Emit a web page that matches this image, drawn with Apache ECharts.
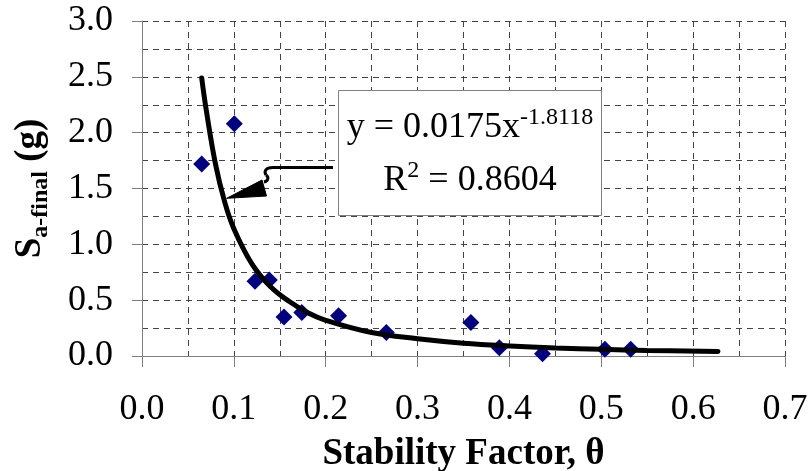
<!DOCTYPE html>
<html><head><meta charset="utf-8">
<script src="https://cdn.jsdelivr.net/npm/echarts@6/dist/echarts.min.js"></script>
<style>html,body{margin:0;padding:0;background:#fff}#c{width:811px;height:471px}</style>
</head><body><div id="c"></div>
<script>
// Observed data points (Stability Factor θ, Sa-final in g)
const stabilityFactor = [0.065, 0.1005, 0.123, 0.1386, 0.1546, 0.174, 0.214, 0.266, 0.358, 0.389, 0.436, 0.504, 0.532];
const saFinal = [1.72, 2.08, 0.67, 0.68, 0.35, 0.39, 0.36, 0.21, 0.30, 0.075, 0.02, 0.06, 0.06];
// Trend curve
const trendX = [0.065, 0.07, 0.08, 0.09, 0.10, 0.12, 0.14, 0.16, 0.18, 0.20, 0.25, 0.30, 0.35, 0.40, 0.45, 0.50, 0.55, 0.627];
const trendY = [2.49, 2.20, 1.72, 1.38, 1.14, 0.82, 0.62, 0.49, 0.39, 0.32, 0.21, 0.155, 0.115, 0.09, 0.072, 0.06, 0.05, 0.04];
const xAxisRange = [0, 0.7];
const yAxisRange = [0, 3.0];
const eqLine1 = 'y = 0.0175x';
const eqExp = '-1.8118';
const eqLine2a = 'R';
const eqSq = '2';
const eqLine2b = ' = 0.8604';

const FONT = "'Liberation Serif','Times New Roman',serif";
const chart = echarts.init(document.getElementById('c'), null, {renderer: 'canvas'});
const gridCol = '#444';
const dash = [6, 5];
const option = {
  animation: false,
  backgroundColor: '#fff',
  grid: {left: 142, top: 21, right: 26, bottom: 115, containLabel: false, outerBoundsMode: 'none'},
  xAxis: {
    type: 'value', min: xAxisRange[0], max: xAxisRange[1], interval: 0.1,
    name: 'Stability Factor, θ', nameLocation: 'middle', nameGap: 80,
    nameTextStyle: {fontFamily: FONT, fontSize: 37, fontWeight: 'bold', color: '#000'},
    axisLine: {show: true, lineStyle: {color: '#808080', width: 1}},
    axisTick: {show: true, length: 11, lineStyle: {color: '#808080'}},
    axisLabel: {fontFamily: FONT, fontSize: 36, color: '#000', margin: 36, formatter: v => v.toFixed(1)},
    splitLine: {show: true, lineStyle: {color: gridCol, type: dash, width: 1}},
    minorTick: {show: false, splitNumber: 2},
    minorSplitLine: {show: true, lineStyle: {color: gridCol, type: dash, width: 1}}
  },
  yAxis: {
    type: 'value', min: yAxisRange[0], max: yAxisRange[1], interval: 0.5,
    name: '{s|S}{sub|a-final}{m| (g)}', nameLocation: 'middle', nameGap: 92, nameRotate: 90,
    nameTextStyle: {
      fontFamily: FONT, fontWeight: 'bold', color: '#000',
      rich: {
        s: {fontFamily: FONT, fontSize: 37, fontWeight: 'bold', lineHeight: 40},
        sub: {fontFamily: FONT, fontSize: 24, fontWeight: 'bold', lineHeight: 24, padding: [22, 0, 0, 0]},
        m: {fontFamily: FONT, fontSize: 37, fontWeight: 'bold', lineHeight: 40}
      }
    },
    axisLine: {show: true, lineStyle: {color: '#808080', width: 1}},
    axisTick: {show: true, length: 10, lineStyle: {color: '#808080'}},
    axisLabel: {fontFamily: FONT, fontSize: 36, color: '#000', margin: 29, formatter: v => v.toFixed(1)},
    splitLine: {show: true, lineStyle: {color: gridCol, type: dash, width: 1}},
    minorTick: {show: false, splitNumber: 2},
    minorSplitLine: {show: true, lineStyle: {color: gridCol, type: dash, width: 1}}
  },
  series: [
    {
      type: 'scatter', symbol: 'diamond', symbolSize: 17,
      itemStyle: {color: '#000080', opacity: 1},
      data: stabilityFactor.map((x, i) => [x, saFinal[i]]), z: 2
    },
    {
      type: 'line', smooth: 0.4, showSymbol: false, symbol: 'none',
      lineStyle: {color: '#000', width: 5, cap: 'round'},
      data: trendX.map((x, i) => [x, trendY[i]]), z: 3
    }
  ],
  graphic: [
    {
      type: 'line', z: 10,
      shape: {x1: 333, y1: 167.5, x2: 273, y2: 167.5},
      style: {stroke: '#000', lineWidth: 3}
    },
    {
      type: 'bezierCurve', z: 10,
      shape: {x1: 273, y1: 167.5, cpx1: 265, cpy1: 167.5, cpx2: 264, cpy2: 172, x2: 266, y2: 175},
      style: {fill: null, stroke: '#000', lineWidth: 3}
    },
    {
      type: 'bezierCurve', z: 10,
      shape: {x1: 266, y1: 175, cpx1: 269, cpy1: 177, cpx2: 268.5, cpy2: 181, x2: 264, y2: 182},
      style: {fill: null, stroke: '#000', lineWidth: 3}
    },
    {
      type: 'polygon', z: 10,
      shape: {points: [[226.7, 198.3], [262, 180], [266.5, 196]]},
      style: {fill: '#000', stroke: '#000', lineWidth: 1}
    },
    {
      type: 'rect', z: 10,
      shape: {x: 338.5, y: 90.5, width: 263, height: 125},
      style: {fill: '#fff', stroke: '#808080', lineWidth: 1}
    },
    {
      type: 'text', z: 11, x: 470, y: 106,
      style: {
        text: '{m|' + eqLine1 + '}{sup|' + eqExp + '}',
        align: 'center', verticalAlign: 'top',
        rich: {
          m: {fontFamily: FONT, fontSize: 36, lineHeight: 44, fill: '#000'},
          sup: {fontFamily: FONT, fontSize: 24, lineHeight: 24, padding: [0, 0, 20, 0], fill: '#000'}
        }
      }
    },
    {
      type: 'text', z: 11, x: 470, y: 159,
      style: {
        text: '{m|' + eqLine2a + '}{sup|' + eqSq + '}{m|' + eqLine2b + '}',
        align: 'center', verticalAlign: 'top',
        rich: {
          m: {fontFamily: FONT, fontSize: 36, lineHeight: 44, fill: '#000'},
          sup: {fontFamily: FONT, fontSize: 24, lineHeight: 24, padding: [0, 0, 20, 0], fill: '#000'}
        }
      }
    }
  ]
};
chart.setOption(option);
</script></body></html>
